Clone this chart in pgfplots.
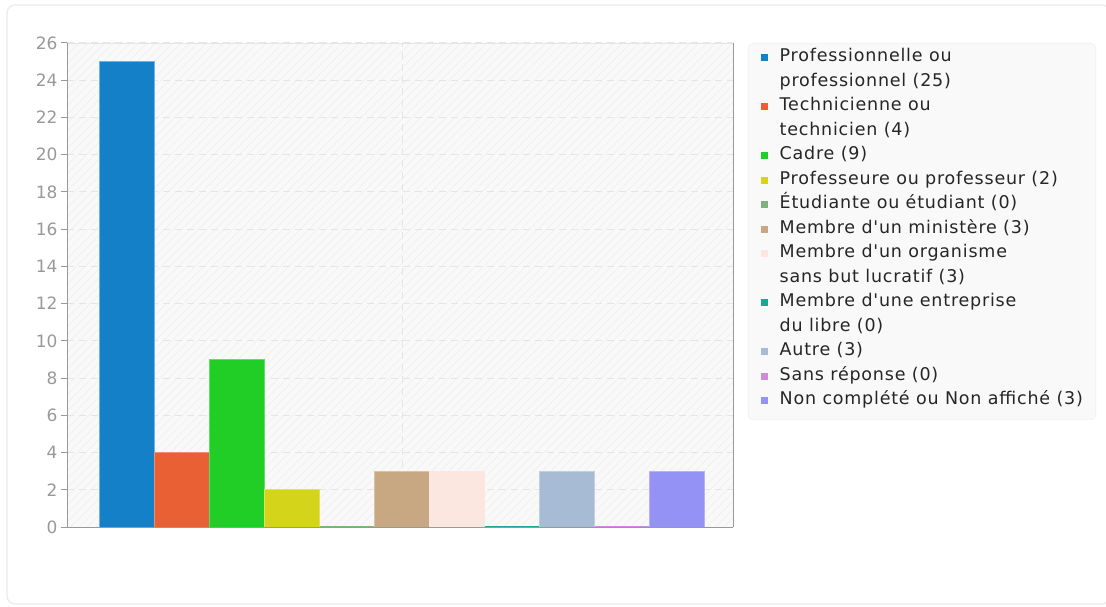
\documentclass[border=0pt]{standalone}
\usepackage{pgfplots}
\pgfplotsset{compat=1.18}
\usepackage{fontspec}
\setmainfont{DejaVu Sans}
\newfontfamily\legfont{DejaVu Sans}[LetterSpace=4.5]
\usetikzlibrary{patterns.meta}

\definecolor{c1}{HTML}{1380C8}
\definecolor{c2}{HTML}{E86033}
\definecolor{c3}{HTML}{21CE25}
\definecolor{c4}{HTML}{D4D41B}
\definecolor{c5}{HTML}{7FB27F}
\definecolor{c6}{HTML}{C8A882}
\definecolor{c7}{HTML}{FBE7DF}
\definecolor{c8}{HTML}{1FA597}
\definecolor{c9}{HTML}{A8BBD5}
\definecolor{c10}{HTML}{D08BD8}
\definecolor{c11}{HTML}{9592F5}
\definecolor{tickgray}{HTML}{999999}

\begin{document}
\begin{tikzpicture}
\useasboundingbox (0,0) rectangle (1106pt,606pt);
\fill[white] (0,0) rectangle (1106pt,606pt);
\draw[black!8, line width=1.2pt, rounded corners=8pt] (7pt,2pt) rectangle (1110pt,601pt);
\begin{axis}[
    at={(67pt,79pt)}, anchor=south west,
    scale only axis,
    width=666pt, height=484pt,
    xmin=-1.1, xmax=11.01,
    ymin=0, ymax=26,
    ytick={0,2,...,26},
    xtick={5}, xticklabels={},
    ybar, bar width=1, bar shift=0pt,
    axis background/.style={fill=black!2.5,
        postaction={pattern={Lines[angle=45,distance=6pt,line width=0.7pt]}, pattern color=black!6}},
    grid=major,
    major grid style={black!10, line width=1pt, dash pattern=on 7pt off 5pt},
    separate axis lines,
    axis line style={black!10},
    y axis line style={tickgray},
    tick style={tickgray, line width=1pt},
    ytick pos=left, xtick style={draw=none},
    tick align=outside, major tick length=6pt,
    /pgf/number format/assume math mode=true,
    ticklabel style={font=\fontsize{17}{20}\selectfont, text=tickgray},
    legend style={at={(1.0225,1)}, anchor=north west, fill=black!2.5, draw=black!8,
        rounded corners=5pt, inner xsep=13pt, inner ysep=4.5pt,
        font=\legfont\fontsize{17.5}{20}\selectfont, row sep=0pt, column sep=11.5pt,
        nodes={inner sep=0pt, text height=14pt, text depth=10.5pt, text=black!85}},
    legend cell align=left,
    every axis plot/.append style={
        legend image code/.code={\fill[#1,draw=none,sharp corners] (0pt,-1.5pt) rectangle (7pt,5.5pt);}},
]
\addplot[fill=c1, draw=c1!60!white, line width=1pt] coordinates {(0,25)};
\addlegendentry{Professionnelle ou}
\addlegendimage{empty legend}
\addlegendentry{professionnel (25)}
\addplot[fill=c2, draw=c2!70!white, line width=1pt] coordinates {(1,4)};
\addlegendentry{Technicienne ou}
\addlegendimage{empty legend}
\addlegendentry{technicien (4)}
\addplot[fill=c3, draw=c3!70!white, line width=1pt] coordinates {(2,9)};
\addlegendentry{Cadre (9)}
\addplot[fill=c4, draw=c4!70!white, line width=1pt] coordinates {(3,2)};
\addlegendentry{Professeure ou professeur (2)}
\addplot[fill=c5, draw=c5, line width=1.5pt] coordinates {(4,0)};
\addlegendentry{Étudiante ou étudiant (0)}
\addplot[fill=c6, draw=c6!70!white, line width=1pt] coordinates {(5,3)};
\addlegendentry{Membre d'un ministère (3)}
\addplot[fill=c7, draw=c7, line width=1pt] coordinates {(6,3)};
\addlegendentry{Membre d'un organisme}
\addlegendimage{empty legend}
\addlegendentry{sans but lucratif (3)}
\addplot[fill=c8, draw=c8, line width=1.5pt] coordinates {(7,0)};
\addlegendentry{Membre d'une entreprise}
\addlegendimage{empty legend}
\addlegendentry{du libre (0)}
\addplot[fill=c9, draw=c9!70!white, line width=1pt] coordinates {(8,3)};
\addlegendentry{Autre (3)}
\addplot[fill=c10, draw=c10, line width=1.5pt] coordinates {(9,0)};
\addlegendentry{Sans réponse (0)}
\addplot[fill=c11, draw=c11!70!white, line width=1pt] coordinates {(10,3)};
\addlegendentry{Non complété ou Non affiché (3)}
% bottom axis line in grey
\draw[tickgray, line width=1pt] (rel axis cs:0,0) -- (rel axis cs:1,0);
\end{axis}
\end{tikzpicture}
\end{document}
